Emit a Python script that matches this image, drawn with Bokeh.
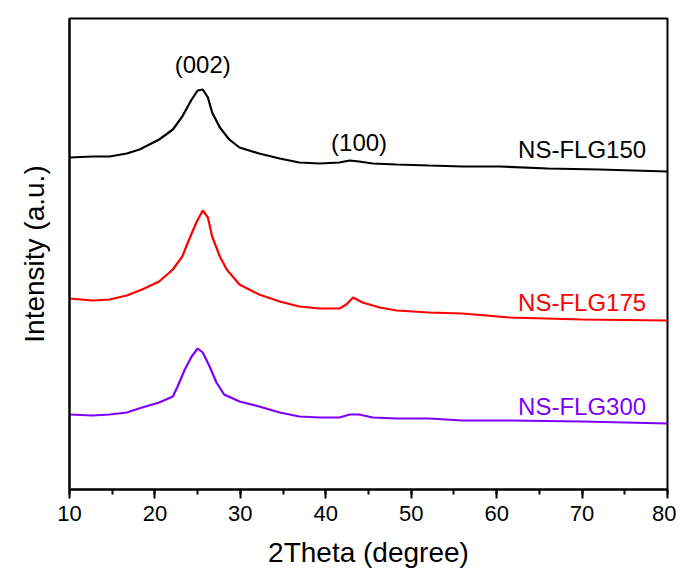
from bokeh.plotting import figure
from bokeh.models import Range1d, SingleIntervalTicker, FixedTicker, Label
from bokeh.embed import file_html
from bokeh.resources import INLINE

# ---- data ----
series_names = ["NS-FLG150", "NS-FLG175", "NS-FLG300"]
series_colors = ["#000000", "#ff0000", "#8000ff"]

x_150 = [10.0, 12.7, 14.7, 16.7, 18.2, 20.5, 22.1, 23.2, 24.3, 25.0, 25.6, 26.2, 26.7, 27.6, 28.7,
         29.9, 32.2, 34.6, 36.9, 39.3, 41.6, 42.8, 43.9, 45.5, 48.3, 52.1, 56.0, 60.3, 66.0, 72.0, 80.0]
y_150 = [332, 333, 333, 336, 340, 350, 360, 373, 390, 399, 400, 392, 377, 362, 350,
         342, 336, 331, 327, 326, 327, 329, 328, 326, 325, 324, 323, 323, 321, 320, 318]

x_175 = [10.0, 12.7, 14.7, 16.7, 18.5, 20.5, 22.1, 23.2, 24.0, 24.9, 25.6, 26.2, 26.7, 27.6, 28.4,
         29.9, 32.2, 34.6, 36.9, 39.3, 41.6, 42.4, 43.2, 44.3, 46.3, 48.3, 52.1, 56.0, 61.5, 70.0, 80.0]
y_175 = [191, 189, 190, 194, 200, 208, 220, 233, 250, 268, 279, 272, 253, 233, 220,
         205, 195, 188, 183, 181, 181, 185, 192, 187, 182, 179, 177, 176, 172, 170, 169]

x_300 = [10.0, 12.7, 14.7, 16.7, 18.5, 20.5, 22.1, 22.6, 23.5, 24.3, 25.0, 25.6, 26.4, 27.2, 28.1,
         29.9, 32.2, 34.6, 36.9, 39.3, 41.6, 42.8, 43.9, 45.5, 48.3, 52.1, 56.0, 61.5, 70.0, 80.0]
y_300 = [75, 74, 75, 77, 82, 87, 93, 102, 120, 133, 141, 137, 123, 107, 95,
         88, 83, 77, 73, 72, 72, 75, 75, 72, 71, 71, 69, 69, 68, 66]

peak_labels = ["(002)", "(100)"]
peak_positions = [25.6, 43.9]

FONT = "Liberation Sans"

p = figure(width=676, height=572, output_backend="svg", toolbar_location=None,
           x_range=Range1d(10, 80), y_range=Range1d(0, 471),
           min_border_left=69, min_border_right=9, min_border_top=18, min_border_bottom=83)

p.background_fill_color = "white"
p.border_fill_color = "white"
p.outline_line_color = "black"
p.outline_line_width = 2
p.grid.visible = False

xs = [x_150, x_175, x_300]
ys = [y_150, y_175, y_300]
for x, y, c in zip(xs, ys, series_colors):
    p.line(x, y, line_color=c, line_width=2.2)

# x axis
xa = p.xaxis[0]
xa.ticker = SingleIntervalTicker(interval=10, num_minor_ticks=2)
xa.axis_line_width = 2
xa.major_tick_line_width = 2
xa.minor_tick_line_width = 2
xa.major_tick_in = 0
xa.major_tick_out = 9
xa.minor_tick_in = 0
xa.minor_tick_out = 5
xa.major_label_text_font = FONT
xa.major_label_text_font_size = "22px"
xa.major_label_text_color = "black"
xa.major_label_standoff = 7
xa.axis_label = "2Theta (degree)"
xa.axis_label_text_font = FONT
xa.axis_label_text_font_style = "normal"
xa.axis_label_text_font_size = "28px"
xa.axis_label_text_color = "black"
xa.axis_label_standoff = 13

# y axis
ya = p.yaxis[0]
ya.ticker = FixedTicker(ticks=[])
ya.axis_line_width = 2
ya.major_tick_in = 0
ya.major_tick_out = 0
ya.minor_tick_in = 0
ya.minor_tick_out = 0
ya.major_label_standoff = 0
ya.axis_label = "Intensity (a.u.)"
ya.axis_label_text_font = FONT
ya.axis_label_text_font_style = "normal"
ya.axis_label_text_font_size = "28px"
ya.axis_label_text_color = "black"
ya.axis_label_standoff = 20

# peak labels
for txt, xp, yp in zip(peak_labels, peak_positions, [425, 347]):
    p.add_layout(Label(x=xp, y=yp, text=txt, text_align="center", text_baseline="middle",
                       text_font=FONT, text_font_size="24px", text_color="black"))

# series labels
for name, c, yp in zip(series_names, series_colors, [340, 187, 83]):
    p.add_layout(Label(x=77.5, y=yp, text=name, text_align="right", text_baseline="middle",
                       text_font=FONT, text_font_size="24px", text_color=c))

open("out.html", "w").write(file_html(p, INLINE))
